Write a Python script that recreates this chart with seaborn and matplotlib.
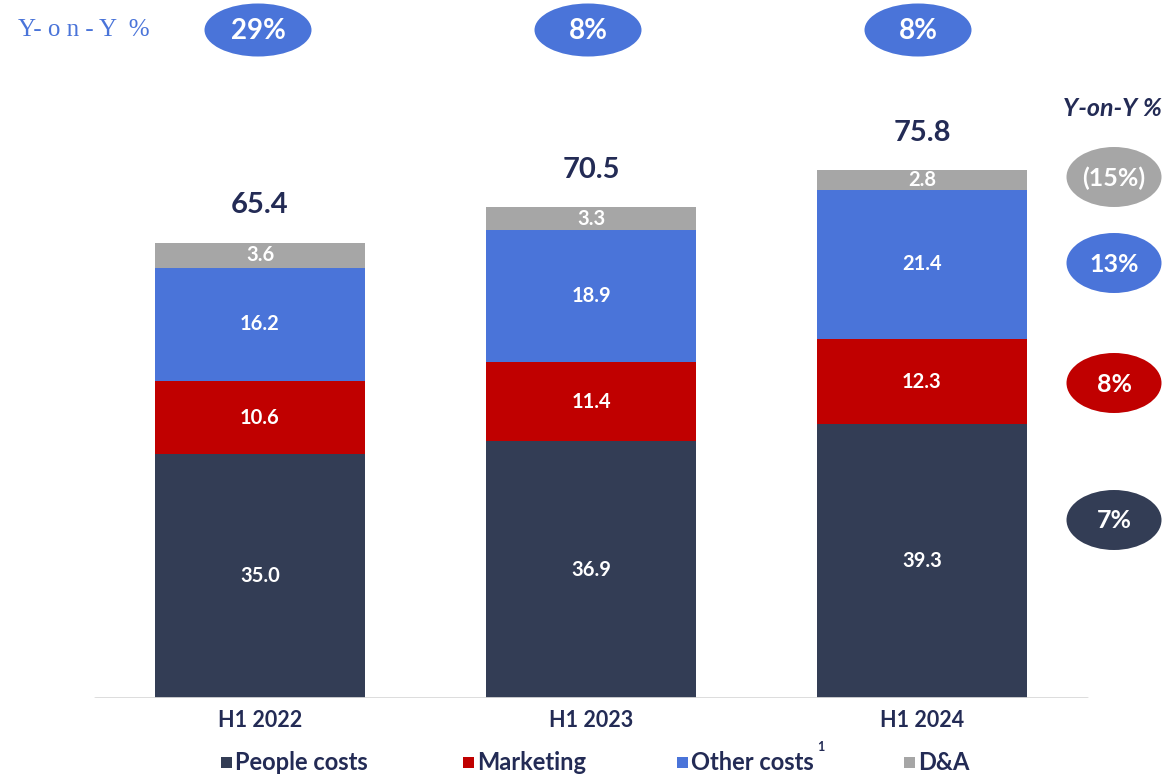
import matplotlib
matplotlib.use("Agg")
import matplotlib.pyplot as plt
from matplotlib.patches import Ellipse, Rectangle
import numpy as np
import pandas as pd
import seaborn as sns

# ---- data -------------------------------------------------------------
periods = ["H1 2022", "H1 2023", "H1 2024"]
people_costs = [35.0, 36.9, 39.3]
marketing = [10.6, 11.4, 12.3]
other_costs = [16.2, 18.9, 21.4]
d_and_a = [3.6, 3.3, 2.8]
totals = [65.4, 70.5, 75.8]
total_yoy = ["29%", "8%", "8%"]
segment_names = ["People costs", "Marketing", "Other costs", "D&A"]
segment_yoy = ["7%", "8%", "13%", "(15%)"]

# ---- style ------------------------------------------------------------
sns.set_theme(style="white")
plt.rcParams["font.family"] = ["Lato", "DejaVu Sans"]

NAVY = "#333D55"
RED = "#C00000"
BLUE = "#4A74D9"
GREY = "#A6A6A6"
TEXT = "#232B55"
colors = [NAVY, RED, BLUE, GREY]

W, H = 1171, 776
fig = plt.figure(figsize=(W / 100, H / 100), dpi=100)
ax = fig.add_axes([0, (H - 698) / H, 1, 698 / H])

df = pd.DataFrame({
    "period": periods,
    "People costs": people_costs,
    "Marketing": marketing,
    "Other costs": other_costs,
    "D&A": d_and_a,
})

# stacked bars, one seaborn layer per cost type
bottom = np.zeros(len(periods))
for name, col in zip(segment_names, colors):
    vals = df[name].to_numpy()
    sns.barplot(data=df, x="period", y=name, color=col, saturation=1,
                width=0.634, bottom=bottom, ax=ax, linewidth=0)
    for i, (v, b) in enumerate(zip(vals, bottom)):
        ax.text(i, b + v / 2, f"{v:.1f}", ha="center", va="center",
                color="white", fontsize=14.5, fontweight="bold")
    bottom = bottom + vals

# totals above bars
for i, t in enumerate(totals):
    ax.text(i, t + 5.4, f"{t:.1f}", ha="center", va="center",
            color=TEXT, fontsize=21, fontweight="bold")

px_per_unit = 331.0
ax.set_xlim(-260 / px_per_unit, (W - 260) / px_per_unit)
ax.set_ylim(0, 698 / 6.96)
ax.set_xlabel("")
ax.set_ylabel("")
ax.set_yticks([])
ax.set_xticks([])
for s in ax.spines.values():
    s.set_visible(False)
ax.axhline(0, xmin=95 / W, xmax=1087 / W, color="#D9D9D9", lw=2, zorder=5)

# category labels
for i, p in enumerate(periods):
    ax.text(i, -3.2, p, ha="center", va="center", color=TEXT,
            fontsize=15.5, fontweight="bold")

# pixel helper for figure-level annotations
def fx(x):
    return x / W

def fy(y):
    return 1 - y / H

# top row: total year-on-year growth
fig.text(fx(84), fy(30), "Y- o n - Y  %", ha="center", va="center",
         color=BLUE, fontsize=18, family="Liberation Serif")
for i, g in enumerate(total_yoy):
    cx = 258 + 330 * i
    fig.patches.append(Ellipse((fx(cx), fy(30)), 107 / W, 53 / H,
                               transform=fig.transFigure,
                               facecolor=BLUE, edgecolor="none"))
    fig.text(fx(cx), fy(31), g, ha="center", va="center", color="white",
             fontsize=20, fontweight="bold")

# right column: growth by cost type
fig.text(fx(1112), fy(109), "Y-on-Y %", ha="center", va="center",
         color=TEXT, fontsize=18, fontweight="bold", style="italic")
ell_y = {"People costs": 520, "Marketing": 383, "Other costs": 263, "D&A": 177}
for name, col, g in zip(segment_names, colors, segment_yoy):
    cy = ell_y[name]
    fig.patches.append(Ellipse((fx(1114), fy(cy)), 95 / W, 60 / H,
                               transform=fig.transFigure,
                               facecolor=col, edgecolor="none"))
    fig.text(fx(1114), fy(cy + 1), g, ha="center", va="center",
             color="white", fontsize=18, fontweight="bold")

# legend
leg_x = [221, 463, 677, 904]
for name, col, x in zip(segment_names, colors, leg_x):
    fig.patches.append(Rectangle((fx(x), fy(768)), 11 / W, 11 / H,
                                 transform=fig.transFigure,
                                 facecolor=col, edgecolor="none"))
    fig.text(fx(x + 14), fy(762), name, ha="left", va="center",
             color=TEXT, fontsize=17, fontweight="bold")
fig.text(fx(817), fy(747), "1", ha="left", va="center", color=TEXT,
         fontsize=9, fontweight="bold")

fig.savefig("out.png", dpi=100, facecolor="white")
